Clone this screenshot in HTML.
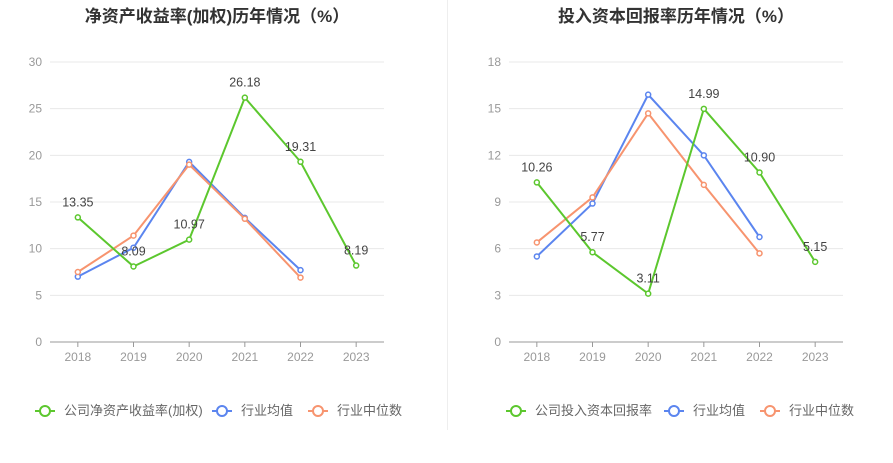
<!DOCTYPE html>
<html><head><meta charset="utf-8"><style>
body{margin:0;background:#fff;font-family:"Liberation Sans","Noto Sans CJK SC",sans-serif;}
svg text{font-family:"Liberation Sans","Noto Sans CJK SC",sans-serif;}
</style></head><body>
<svg id="c" width="893" height="458"></svg>
<script>
const years=["2018","2019","2020","2021","2022","2023"];
const roeCompany=[13.35,8.09,10.97,26.18,19.31,8.19];
const roeAvg=[7.0,10.1,19.3,13.3,7.7];
const roeMed=[7.5,11.4,19.0,13.2,6.9];
const roeTicks=[0,5,10,15,20,25,30];
const roicCompany=[10.26,5.77,3.11,14.99,10.90,5.15];
const roicAvg=[5.5,8.9,15.9,12.0,6.75];
const roicMed=[6.4,9.3,14.7,10.1,5.7];
const roicTicks=[0,3,6,9,12,15,18];
const NS="http://www.w3.org/2000/svg";
const svg=document.getElementById('c');
function mk(t,a,p){const e=document.createElementNS(NS,t);for(const k in a)e.setAttribute(k,a[k]);(p||svg).appendChild(e);return e;}
const G="#5cc72e",B="#5b85ef",O="#f7946f";
function chart(x0,x1,title,ticks,comp,avg,med,legendName,lx,name){
 const g=mk('g',{});
 
 
 const yTop=62,yBot=342,max=ticks[ticks.length-1];
 const y=v=>yBot-(v/max)*(yBot-yTop);
 const step=(x1-x0)/6;
 const x=i=>x0+step*(i+0.5);
 const t=mk('text',{x:(x0+x1)/2,y:22,'text-anchor':'middle','font-size':17,'font-weight':'bold',fill:'#333'},g);
 t.textContent=title;
 
 
 ticks.forEach(v=>{
  mk('line',{x1:x0,x2:x1,y1:y(v),y2:y(v),stroke:v?'#e8e8e8':'#999','stroke-width':1},g);
  const l=mk('text',{x:x0-8,y:y(v)+4,'text-anchor':'end','font-size':12,fill:'#999'},g);
  l.textContent=v;
  
  
 });
 years.forEach((yr,i)=>{
  mk('line',{x1:x(i),x2:x(i),y1:yBot,y2:yBot+5,stroke:'#999'},g);
  const l=mk('text',{x:x(i),y:yBot+19,'text-anchor':'middle','font-size':12,fill:'#999'},g);
  l.textContent=yr;
  
  
 });
 function series(d,c,nm,labels){
  const pl=mk('polyline',{points:d.map((v,i)=>x(i)+','+y(v)).join(' '),fill:'none',stroke:c,'stroke-width':2},g);
  
  
  d.forEach((v,i)=>{
   const p=mk('circle',{cx:x(i),cy:y(v),r:2.5,fill:'#fff',stroke:c,'stroke-width':1.5},g);
   
   
   if(labels){
    const l=mk('text',{x:x(i),y:y(v)-11,'text-anchor':'middle','font-size':12.5,fill:'#444'},g);
    l.textContent=v.toFixed(2);
    
    
   }
  });
 }
 series(avg,B,'industry-average');
 series(med,O,'industry-median');
 series(comp,G,'company',true);
 const items=[[legendName,G,lx[0]],['行业均值',B,lx[1]],['行业中位数',O,lx[2]]];
 items.forEach(([n,c,px])=>{
  const lg=mk('g',{},g);
  
  
  mk('line',{x1:px-10,x2:px+10,y1:411,y2:411,stroke:c,'stroke-width':2},lg);
  mk('circle',{cx:px,cy:411,r:5,fill:'#fff',stroke:c,'stroke-width':2},lg);
  const tt=mk('text',{x:px+19,y:415,'font-size':13,fill:'#666'},lg);
  tt.textContent=n;
 });
}
const dv=mk('line',{x1:447.5,x2:447.5,y1:0,y2:430,stroke:'#eee'});


chart(50,384,'净资产收益率(加权)历年情况（%）',roeTicks,roeCompany,roeAvg,roeMed,'公司净资产收益率(加权)',[45,222,318],'roe-chart');
chart(509,843,'投入资本回报率历年情况（%）',roicTicks,roicCompany,roicAvg,roicMed,'公司投入资本回报率',[516,674,770],'roic-chart');
</script>
</body></html>
